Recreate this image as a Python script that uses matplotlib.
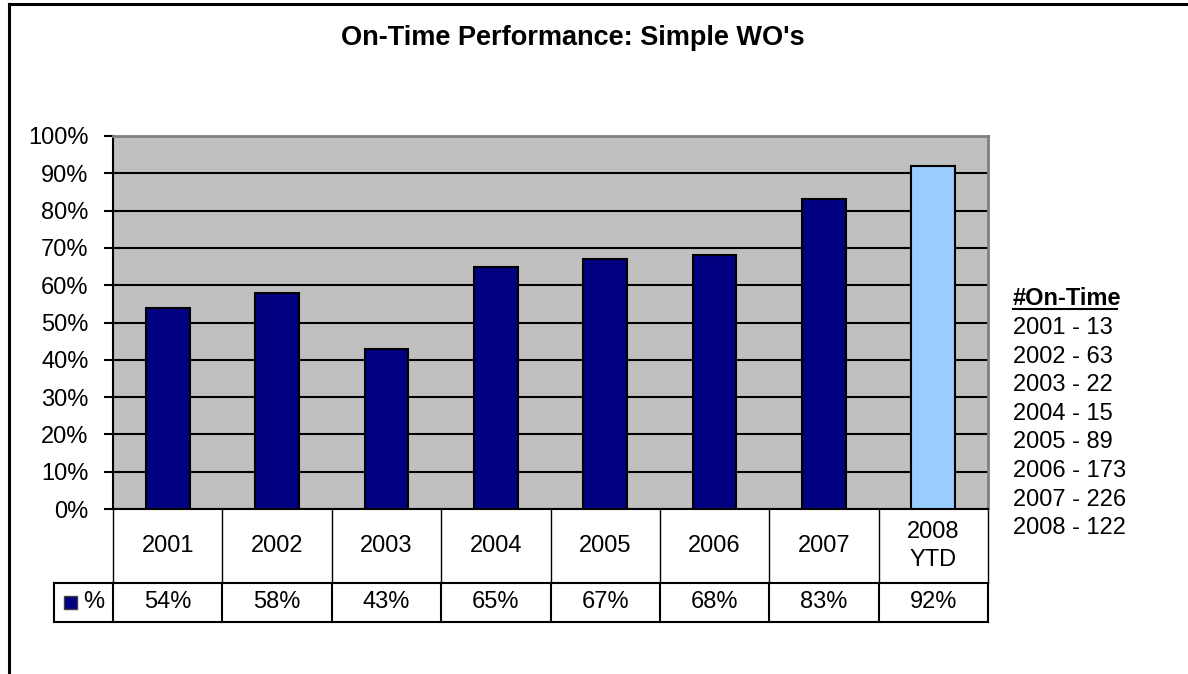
import matplotlib
matplotlib.use("Agg")
import matplotlib.pyplot as plt
import numpy as np
from matplotlib.lines import Line2D
from matplotlib.patches import Rectangle
from matplotlib.transforms import blended_transform_factory

plt.rcParams["font.family"] = ["Liberation Sans", "DejaVu Sans"]

# data
years = ["2001", "2002", "2003", "2004", "2005", "2006", "2007", "2008\nYTD"]
pct = [54, 58, 43, 65, 67, 68, 83, 92]
bar_colors = ["#000080"] * 7 + ["#99CCFF"]
ontime_years = ["2001", "2002", "2003", "2004", "2005", "2006", "2007", "2008"]
ontime_counts = [13, 63, 22, 15, 89, 173, 226, 122]

FS = 17
W, H = 1188, 674
fig = plt.figure(figsize=(W / 100, H / 100), dpi=100)


def fx(px):
    return px / W


def fy(py):
    return 1 - py / H


# outer chart frame (left + top visible)
fig.add_artist(Line2D([fx(9), fx(9)], [fy(4), 0], color="black", lw=2.2))
fig.add_artist(Line2D([fx(9), 1], [fy(4), fy(4)], color="black", lw=2.2))

fig.text(fx(573), fy(38), "On-Time Performance: Simple WO's", ha="center", va="center",
         fontsize=19.5, fontweight="bold")

ax = fig.add_axes([fx(113), fy(509), fx(988) - fx(113), fy(136) - fy(509)])
ax.set_facecolor("#C0C0C0")
x = np.arange(len(years))
ax.bar(x, np.array(pct) / 100, width=0.4, color=bar_colors, edgecolor="black", lw=1.5, zorder=3)
ax.set_xlim(-0.5, len(years) - 0.5)
ax.set_ylim(0, 1)
ax.set_axisbelow(True)
ax.yaxis.grid(True, color="black", lw=1.5)
ax.set_yticks(np.arange(0, 1.01, 0.1))
ax.set_yticklabels([f"{v}%" for v in range(0, 101, 10)], fontsize=FS)
ax.tick_params(axis="y", direction="out", length=6.5, width=1.5, pad=11)
ax.set_xticks([])
ax.spines["left"].set_linewidth(1.5)
ax.spines["bottom"].set_linewidth(1.5)
for s in ["top", "right"]:
    ax.spines[s].set_color("#808080")
    ax.spines[s].set_linewidth(2)

# data table under the chart
tr = blended_transform_factory(ax.transData, ax.transAxes)
plot_h = 509 - 136
plot_w = 988 - 113
r1 = -(583 - 509) / plot_h
r2 = -(622 - 509) / plot_h
key_left = -(113 - 54) / plot_w

for i in range(len(years) + 1):
    ax.add_line(Line2D([i - 0.5, i - 0.5], [0, r1], transform=tr, color="black", lw=1.0, clip_on=False))
    ax.add_line(Line2D([i - 0.5, i - 0.5], [r1, r2], transform=tr, color="black", lw=1.5, clip_on=False))
for yy in [r1, r2]:
    ax.add_line(Line2D([key_left, 1], [yy, yy], transform=ax.transAxes, color="black", lw=1.5, clip_on=False))
ax.add_line(Line2D([key_left, key_left], [r1, r2], transform=ax.transAxes, color="black", lw=1.5, clip_on=False))

for i, (lab, v) in enumerate(zip(years, pct)):
    ax.text(i, r1 / 2, lab, transform=tr, ha="center", va="center", fontsize=FS, linespacing=1.3)
    ax.text(i, (r1 + r2) / 2, f"{v}%", transform=tr, ha="center", va="center", fontsize=FS)

ax.add_patch(Rectangle(((64 - 113) / plot_w, (r1 + r2) / 2 - 6.5 / plot_h), 13 / plot_w, 13 / plot_h,
                       transform=ax.transAxes, facecolor="#000080", edgecolor="#404040", lw=1, clip_on=False))
ax.text((94 - 113) / plot_w, (r1 + r2) / 2, "%", transform=ax.transAxes, ha="center", va="center",
        fontsize=FS)

# #On-Time side list
hdr = fig.text(fx(1013), fy(299), "#On-Time", ha="left", va="center", fontsize=FS, fontweight="bold")
for i, (yr, n) in enumerate(zip(ontime_years, ontime_counts)):
    fig.text(fx(1013), fy(328 + i * 28.6), f"{yr} - {n}", ha="left", va="center", fontsize=FS)

fig.canvas.draw()
bb = hdr.get_window_extent().transformed(fig.transFigure.inverted())
fig.add_artist(Line2D([bb.x0, bb.x1 - 0.004], [bb.y0 + 0.002, bb.y0 + 0.002], color="black", lw=1.5))

fig.savefig("out.png", dpi=100)
